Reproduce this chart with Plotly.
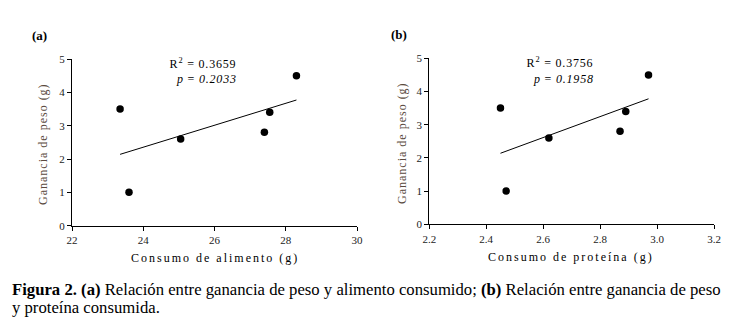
import plotly.graph_objects as go

W, H = 735, 331

# Data
ganancia = [3.5, 1.0, 2.6, 2.8, 3.4, 4.5]
alimento = [23.35, 23.6, 25.05, 27.4, 27.55, 28.3]
proteina = [2.45, 2.47, 2.62, 2.87, 2.89, 2.97]

trend_a_x = [23.35, 28.3]
trend_a_y = [2.14, 3.77]
trend_b_x = [2.45, 2.97]
trend_b_y = [2.14, 3.78]

x_ticks_a = [22, 24, 26, 28, 30]
x_ticks_b = [2.2, 2.4, 2.6, 2.8, 3.0, 3.2]
x_ticklabels_b = ["2.2", "2.4", "2.6", "2.8", "3.0", "3.2"]
y_ticks = [0, 1, 2, 3, 4, 5]

stats_a = ("0.3659", "0.2033")
stats_b = ("0.3756", "0.1958")

SERIF = "Liberation Serif, Times New Roman, serif"
TICKCOL = "#222222"
TITLECOL = "#5a4a3e"

def px(x):
    return x / W

def py(y):
    return 1 - y / H

fig = go.Figure()

# Panel (a)
fig.add_trace(go.Scatter(x=alimento, y=ganancia, mode="markers",
                         marker=dict(color="black", size=7.5), xaxis="x", yaxis="y",
                         showlegend=False))
fig.add_trace(go.Scatter(x=trend_a_x, y=trend_a_y, mode="lines",
                         line=dict(color="black", width=1), xaxis="x", yaxis="y",
                         showlegend=False))
# Panel (b)
fig.add_trace(go.Scatter(x=proteina, y=ganancia, mode="markers",
                         marker=dict(color="black", size=7.5), xaxis="x2", yaxis="y2",
                         showlegend=False))
fig.add_trace(go.Scatter(x=trend_b_x, y=trend_b_y, mode="lines",
                         line=dict(color="black", width=1), xaxis="x2", yaxis="y2",
                         showlegend=False))

axis_common = dict(showgrid=False, zeroline=False, showline=True, linecolor="black",
                   linewidth=1, ticks="outside", ticklen=4, tickcolor="black",
                   automargin=False,
                   tickfont=dict(family=SERIF, size=11, color=TICKCOL))

fig.update_layout(
    width=W, height=H,
    margin=dict(l=0, r=0, t=0, b=0, pad=0, autoexpand=False),
    paper_bgcolor="white", plot_bgcolor="white",
    xaxis=dict(domain=[px(72), px(357)], range=[22, 30], tickvals=x_ticks_a,
               anchor="y", **axis_common),
    yaxis=dict(domain=[py(225.7), py(59)], range=[0, 5], tickvals=y_ticks,
               anchor="x", **axis_common),
    xaxis2=dict(domain=[px(429.3), px(714)], range=[2.2, 3.2], tickvals=x_ticks_b,
                ticktext=x_ticklabels_b, anchor="y2", **axis_common),
    yaxis2=dict(domain=[py(224.3), py(58.3)], range=[0, 5], tickvals=y_ticks,
                anchor="x2", **axis_common),
)

def ann(text, x, y, size=12, xanchor="center", yanchor="middle", color="black",
        angle=0):
    fig.add_annotation(text=text, x=px(x), y=py(y), xref="paper", yref="paper",
                       showarrow=False, xanchor=xanchor, yanchor=yanchor,
                       textangle=angle,
                       font=dict(family=SERIF, size=size, color=color))

# panel labels
ann("<b>(a)</b>", 30, 35, size=13, xanchor="left")
ann("<b>(b)</b>", 389, 34, size=13, xanchor="left")

# stats
ann("R<sup>2</sup> = " + stats_a[0], 203, 64, size=12)
ann("<i>p</i> = <i>" + stats_a[1] + "</i>", 206, 79, size=12)
ann("R<sup>2</sup> = " + stats_b[0], 560, 63, size=12)
ann("<i>p</i> = <i>" + stats_b[1] + "</i>", 563, 79, size=12)

# axis titles
ann("Consumo de alimento (g)", 215, 258, size=12)
ann("Consumo de proteína (g)", 571, 257, size=12)
ann("Ganancia de peso (g)", 43, 144, size=12, color=TITLECOL, angle=-90)
ann("Ganancia de peso (g)", 402, 143, size=12, color=TITLECOL, angle=-90)

# caption
ann("<b>Figura 2.</b> <b>(a)</b> Relación entre ganancia de peso y alimento consumido; "
    "<b>(b)</b> Relación entre ganancia de peso", 10, 289, size=16.7, xanchor="left")
ann("y proteína consumida.", 10, 307, size=16.7, xanchor="left")

post = """
document.body.style.margin = '0';
document.body.style.padding = '0';
document.querySelectorAll('.annotation-text').forEach(function(t){
  var s = t.textContent;
  if (s.indexOf('Consumo') === 0) { t.style.letterSpacing = '2px'; }
  else if (s.indexOf('Ganancia') === 0) { t.style.letterSpacing = '1px'; }
  else if (s.indexOf('R') === 0 || s.indexOf('p =') === 0) { t.style.letterSpacing = '0.8px'; }
});
"""

fig.write_html("out.html", post_script=post, config={"displayModeBar": False})
